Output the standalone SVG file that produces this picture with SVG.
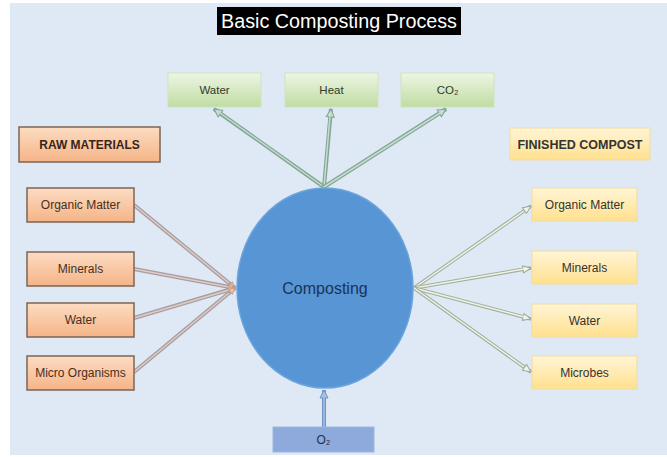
<svg xmlns="http://www.w3.org/2000/svg" width="667" height="457" viewBox="0 0 667 457">
<defs>
<linearGradient id="gOrange" x1="0" y1="0" x2="0" y2="1"><stop offset="0" stop-color="#fcdcc2"/><stop offset="1" stop-color="#f5b487"/></linearGradient>
<linearGradient id="gYellow" x1="0" y1="0" x2="0" y2="1"><stop offset="0" stop-color="#fff5d6"/><stop offset="1" stop-color="#ffe08e"/></linearGradient>
<linearGradient id="gGreen" x1="0" y1="0" x2="0" y2="1"><stop offset="0" stop-color="#edf6e4"/><stop offset="1" stop-color="#c0dca2"/></linearGradient>
<marker id="mLeft" markerUnits="userSpaceOnUse" markerWidth="8" markerHeight="8" refX="7" refY="4" orient="auto"><path d="M1,1 L7,4 L1,7 z" fill="#f4c39c" stroke="#c9a08a" stroke-width="1"/></marker>
<marker id="mTop" markerUnits="userSpaceOnUse" markerWidth="10" markerHeight="10" refX="9" refY="5" orient="auto"><path d="M1,1 L9,5 L1,9 z" fill="#c6dccf" stroke="#7fa594" stroke-width="1"/></marker>
<marker id="mRight" markerUnits="userSpaceOnUse" markerWidth="10" markerHeight="10" refX="9" refY="5" orient="auto"><path d="M1,1.5 L9,5 L1,8.5 z" fill="#f4f5ea" stroke="#98a896" stroke-width="1"/></marker>
<marker id="mBot" markerUnits="userSpaceOnUse" markerWidth="10" markerHeight="10" refX="9" refY="5" orient="auto"><path d="M1,1 L9,5 L1,9 z" fill="#a8c0e0" stroke="#6f94c6" stroke-width="1"/></marker>
</defs>
<style>
.t{font-family:"Liberation Sans",Arial,sans-serif;text-anchor:middle}
.orange{fill:url(#gOrange);stroke:#7c6456;stroke-width:1.5}
.yellow{fill:url(#gYellow);stroke:#f1dc9e;stroke-width:1}
.green{fill:url(#gGreen);stroke:#cfe3bd;stroke-width:1}
.ot{fill:#4a2e1e;font-size:12px}
.yt{fill:#333333;font-size:12px}
.gt{fill:#2f3a2a;font-size:11.5px}
.lo{stroke:#a99ca0;stroke-width:4;fill:none}
.li{stroke:#dccdc6;stroke-width:1.5;fill:none}
.to{stroke:#80a695;stroke-width:4;fill:none}
.ti{stroke:#c6dccf;stroke-width:1.5;fill:none}
.ro{stroke:#a0b09f;stroke-width:3.6;fill:none}
.ri{stroke:#f2f3e6;stroke-width:1.5;fill:none}
.bo{stroke:#6f94c6;stroke-width:4;fill:none}
.bi{stroke:#a8c0e0;stroke-width:1.5;fill:none}
</style>
<rect x="0" y="0" width="667" height="457" fill="#ffffff"/>
<rect x="10" y="3" width="657" height="452" fill="#dfe8f5"/>

<g id="title">
<rect x="217" y="7" width="244" height="28" fill="#000000"/>
<text class="t" x="339" y="28" font-size="20" fill="#ffffff" textLength="236" lengthAdjust="spacingAndGlyphs">Basic Composting Process</text>
</g>

<g id="connectors">
<path class="lo" d="M134,205 L235,288" marker-end="url(#mLeft)"/><path class="li" d="M134,205 L229,283"/>
<path class="lo" d="M134,269 L235,288" marker-end="url(#mLeft)"/><path class="li" d="M134,269 L229,287"/>
<path class="lo" d="M134,318 L235,288" marker-end="url(#mLeft)"/><path class="li" d="M134,318 L229,290"/>
<path class="lo" d="M134,372 L235,288" marker-end="url(#mLeft)"/><path class="li" d="M134,372 L229,293"/>

<path class="to" d="M324,187 L214,109" marker-end="url(#mTop)"/><path class="ti" d="M324,187 L220,113"/>
<path class="to" d="M324,187 L331,109" marker-end="url(#mTop)"/><path class="ti" d="M324,187 L330,116"/>
<path class="to" d="M324,187 L446,109" marker-end="url(#mTop)"/><path class="ti" d="M324,187 L440,113"/>

<path class="ro" d="M414,288 L531,206" marker-end="url(#mRight)"/><path class="ri" d="M414,288 L524,211"/>
<path class="ro" d="M414,288 L531,268" marker-end="url(#mRight)"/><path class="ri" d="M414,288 L524,269"/>
<path class="ro" d="M414,288 L531,319" marker-end="url(#mRight)"/><path class="ri" d="M414,288 L524,317"/>
<path class="ro" d="M414,288 L531,372" marker-end="url(#mRight)"/><path class="ri" d="M414,288 L524,367"/>

<path class="bo" d="M324,427 L324,390" marker-end="url(#mBot)"/><path class="bi" d="M324,427 L324,397"/>
</g>

<g id="composting">
<ellipse cx="325" cy="288" rx="88" ry="100" fill="#5795d4" stroke="#6aa4dc" stroke-width="1.5"/>
<text class="t" x="325" y="294" font-size="16" fill="#1a3358">Composting</text>
</g>

<g id="out-water"><rect class="green" x="168" y="73" width="93" height="34"/><text class="t gt" x="214.5" y="94">Water</text></g>
<g id="out-heat"><rect class="green" x="285" y="73" width="93" height="34"/><text class="t gt" x="331.5" y="94">Heat</text></g>
<g id="out-co2"><rect class="green" x="401" y="73" width="93" height="34"/><text class="t gt" x="447.5" y="94">CO₂</text></g>

<g id="raw-materials"><rect class="orange" x="19" y="127" width="141" height="35"/><text class="t" x="89.5" y="149" font-size="12" font-weight="bold" fill="#3a2418">RAW MATERIALS</text></g>
<g id="raw-organic"><rect class="orange" x="27" y="188" width="107" height="34"/><text class="t ot" x="80.5" y="209">Organic Matter</text></g>
<g id="raw-minerals"><rect class="orange" x="27" y="252" width="107" height="34"/><text class="t ot" x="80.5" y="273">Minerals</text></g>
<g id="raw-water"><rect class="orange" x="27" y="303" width="107" height="34"/><text class="t ot" x="80.5" y="324">Water</text></g>
<g id="raw-micro"><rect class="orange" x="27" y="356" width="107" height="34"/><text class="t ot" x="80.5" y="377">Micro Organisms</text></g>

<g id="finished-compost"><rect class="yellow" x="510" y="128" width="140" height="32"/><text class="t" x="580" y="149" font-size="12.5" font-weight="bold" fill="#333333">FINISHED COMPOST</text></g>
<g id="fin-organic"><rect class="yellow" x="532" y="188" width="105" height="33"/><text class="t yt" x="584.5" y="209">Organic Matter</text></g>
<g id="fin-minerals"><rect class="yellow" x="532" y="251" width="105" height="33"/><text class="t yt" x="584.5" y="272">Minerals</text></g>
<g id="fin-water"><rect class="yellow" x="532" y="304" width="105" height="33"/><text class="t yt" x="584.5" y="325">Water</text></g>
<g id="fin-microbes"><rect class="yellow" x="532" y="356" width="105" height="33"/><text class="t yt" x="584.5" y="377">Microbes</text></g>

<g id="o2"><rect x="273" y="427" width="101" height="25" fill="#8eaadc" stroke="#9db6e0" stroke-width="1"/><text class="t" x="323.5" y="444" font-size="12" fill="#1f2f50">O₂</text></g>
</svg>
